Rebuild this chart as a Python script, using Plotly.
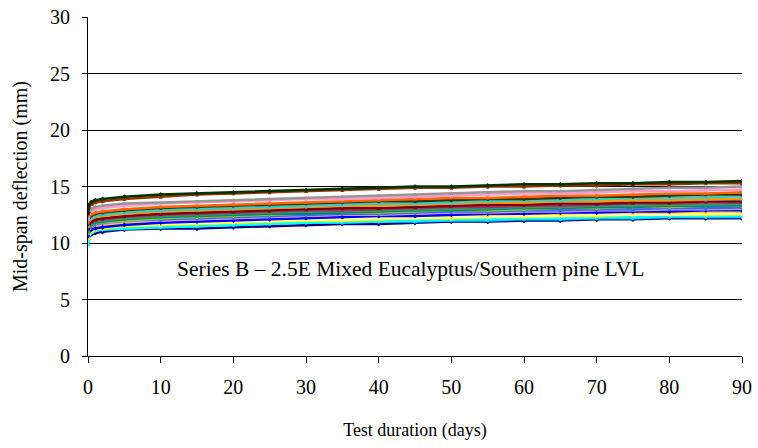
import plotly.graph_objects as go

days = [0, 0.1, 0.5, 1, 2, 5, 10, 15, 20, 25, 30, 35, 40, 45, 50, 55, 60, 65, 70, 75, 80, 85, 90]

colors = ["#003300", "#993300", "#969696", "#FF99CC", "#FF6600", "#333300", "#33CCCC",
          "#FF9900", "#666699", "#800000", "#993366", "#339966", "#008080", "#99CC00",
          "#3366FF", "#CC99FF", "#0000FF", "#FFCC00", "#FFFF99", "#FFFF00", "#00FFFF",
          "#00CCFF", "#000080"]

deflections = [
    [12.7, 13.4, 13.65, 13.8, 13.9, 14.1, 14.3, 14.4, 14.5, 14.6, 14.7, 14.8, 14.9, 15.0, 15.0, 15.1, 15.2, 15.2, 15.3, 15.3, 15.4, 15.4, 15.5],
    [12.6, 13.2, 13.45, 13.6, 13.7, 13.9, 14.1, 14.3, 14.4, 14.5, 14.6, 14.7, 14.8, 14.9, 14.9, 15.0, 15.0, 15.1, 15.1, 15.2, 15.2, 15.3, 15.3],
    [12.3, 12.8, 13.05, 13.2, 13.3, 13.5, 13.6, 13.7, 13.8, 13.9, 14.0, 14.1, 14.2, 14.3, 14.4, 14.5, 14.6, 14.6, 14.7, 14.8, 14.9, 14.9, 15.0],
    [12.1, 12.6, 12.85, 13.0, 13.1, 13.3, 13.5, 13.6, 13.7, 13.8, 13.9, 13.9, 14.0, 14.1, 14.2, 14.3, 14.4, 14.4, 14.5, 14.6, 14.6, 14.7, 14.75],
    [11.8, 12.3, 12.55, 12.7, 12.8, 13.0, 13.2, 13.3, 13.4, 13.5, 13.6, 13.7, 13.8, 13.9, 14.0, 14.0, 14.1, 14.2, 14.2, 14.3, 14.4, 14.4, 14.5],
    [11.7, 12.2, 12.45, 12.6, 12.7, 12.9, 13.1, 13.2, 13.3, 13.4, 13.5, 13.6, 13.7, 13.7, 13.8, 13.9, 13.9, 14.0, 14.1, 14.1, 14.2, 14.3, 14.3],
    [11.5, 12.0, 12.25, 12.4, 12.5, 12.7, 12.9, 13.0, 13.1, 13.2, 13.3, 13.4, 13.5, 13.5, 13.6, 13.7, 13.8, 13.8, 13.9, 14.0, 14.0, 14.1, 14.15],
    [11.4, 11.9, 12.15, 12.3, 12.4, 12.6, 12.8, 12.9, 13.0, 13.1, 13.2, 13.3, 13.3, 13.4, 13.5, 13.6, 13.6, 13.7, 13.7, 13.8, 13.8, 13.9, 13.95],
    [11.6, 12.0, 12.25, 12.4, 12.5, 12.7, 12.8, 12.9, 13.0, 13.1, 13.2, 13.3, 13.4, 13.5, 13.5, 13.6, 13.6, 13.7, 13.7, 13.8, 13.8, 13.8, 13.85],
    [11.3, 11.7, 11.95, 12.1, 12.2, 12.4, 12.6, 12.7, 12.8, 12.9, 13.0, 13.1, 13.1, 13.2, 13.3, 13.4, 13.4, 13.5, 13.5, 13.6, 13.6, 13.7, 13.7],
    [11.2, 11.6, 11.85, 12.0, 12.1, 12.3, 12.5, 12.6, 12.7, 12.8, 12.9, 12.9, 13.0, 13.1, 13.2, 13.2, 13.3, 13.3, 13.4, 13.5, 13.5, 13.6, 13.6],
    [11.1, 11.5, 11.75, 11.9, 12.0, 12.2, 12.4, 12.5, 12.6, 12.7, 12.8, 12.8, 12.9, 13.0, 13.0, 13.1, 13.2, 13.2, 13.3, 13.3, 13.4, 13.4, 13.45],
    [11.0, 11.4, 11.65, 11.8, 11.9, 12.1, 12.3, 12.4, 12.5, 12.6, 12.6, 12.7, 12.8, 12.9, 12.9, 13.0, 13.1, 13.1, 13.2, 13.2, 13.3, 13.3, 13.35],
    [10.9, 11.4, 11.6, 11.75, 11.85, 12.0, 12.2, 12.3, 12.4, 12.5, 12.6, 12.7, 12.7, 12.8, 12.9, 12.9, 13.0, 13.1, 13.1, 13.2, 13.2, 13.3, 13.3],
    [10.9, 11.3, 11.55, 11.7, 11.8, 12.0, 12.1, 12.2, 12.3, 12.4, 12.5, 12.6, 12.6, 12.7, 12.8, 12.8, 12.9, 12.9, 13.0, 13.0, 13.1, 13.1, 13.15],
    [10.8, 11.2, 11.45, 11.6, 11.7, 11.9, 12.0, 12.1, 12.2, 12.3, 12.4, 12.5, 12.5, 12.6, 12.7, 12.7, 12.8, 12.8, 12.9, 12.9, 13.0, 13.0, 13.05],
    [10.6, 11.0, 11.2, 11.3, 11.4, 11.6, 11.8, 11.9, 12.0, 12.1, 12.2, 12.3, 12.4, 12.4, 12.5, 12.6, 12.6, 12.7, 12.7, 12.8, 12.8, 12.9, 12.9],
    [10.7, 11.1, 11.35, 11.5, 11.6, 11.8, 11.9, 12.0, 12.1, 12.2, 12.3, 12.3, 12.4, 12.4, 12.5, 12.5, 12.6, 12.6, 12.7, 12.7, 12.7, 12.8, 12.8],
    [10.5, 10.9, 11.15, 11.3, 11.4, 11.6, 11.7, 11.8, 11.9, 12.0, 12.1, 12.1, 12.2, 12.2, 12.3, 12.3, 12.4, 12.4, 12.5, 12.5, 12.5, 12.6, 12.6],
    [10.4, 10.8, 11.05, 11.2, 11.3, 11.5, 11.6, 11.7, 11.8, 11.9, 12.0, 12.0, 12.1, 12.2, 12.2, 12.3, 12.3, 12.4, 12.4, 12.5, 12.5, 12.5, 12.55],
    [9.8, 10.6, 10.9, 11.1, 11.2, 11.3, 11.4, 11.5, 11.6, 11.7, 11.8, 11.9, 11.9, 12.0, 12.1, 12.1, 12.2, 12.2, 12.3, 12.3, 12.4, 12.4, 12.45],
    [10.2, 10.7, 10.95, 11.1, 11.2, 11.3, 11.4, 11.5, 11.6, 11.7, 11.8, 11.8, 11.9, 11.9, 12.0, 12.0, 12.1, 12.1, 12.2, 12.2, 12.3, 12.3, 12.3],
    [10.3, 10.6, 10.8, 10.9, 11.0, 11.2, 11.3, 11.3, 11.4, 11.5, 11.6, 11.7, 11.7, 11.8, 11.9, 11.9, 12.0, 12.0, 12.1, 12.1, 12.2, 12.2, 12.2],
]

y_ticks = [0, 5, 10, 15, 20, 25, 30]
x_ticks = [0, 10, 20, 30, 40, 50, 60, 70, 80, 90]
note = "Series B \u2013 2.5E Mixed Eucalyptus/Southern pine LVL"

symbols = ["diamond", "square", "triangle-up", "x", "asterisk", "circle", "cross", "line-ew"]

fig = go.Figure()
for i in reversed(range(len(deflections))):
    fig.add_trace(go.Scatter(
        x=days, y=deflections[i], mode="lines+markers",
        line=dict(color=colors[i], width=2.5),
        marker=dict(symbol=symbols[i % len(symbols)], size=3, color=colors[i],
                    line=dict(color=colors[i], width=1)),
        showlegend=False, hoverinfo="skip"))

font = "Liberation Serif, Times New Roman, serif"
fig.update_layout(
    width=758, height=448,
    margin=dict(l=88, r=16, t=17, b=92),
    paper_bgcolor="white", plot_bgcolor="white",
    font=dict(family=font, size=20, color="black"),
    annotations=[dict(x=44.4, y=7.7, xref="x", yref="y", text=note, showarrow=False,
                      font=dict(family=font, size=21.5, color="black"))],
)
fig.update_xaxes(range=[0, 90], tickvals=x_ticks, ticks="outside", ticklen=6,
                 tickcolor="black", showline=True, linecolor="black", linewidth=1,
                 showgrid=False, zeroline=False, ticklabelstandoff=7, automargin=False,
                 title=dict(text="Test duration (days)", font=dict(size=18), standoff=26),
                 tickfont=dict(size=20))
fig.update_yaxes(range=[0, 30.02], tickvals=y_ticks, ticks="outside", ticklen=5,
                 tickcolor="black", showline=True, linecolor="black", linewidth=1,
                 showgrid=True, gridcolor="black", gridwidth=1, zeroline=False,
                 ticklabelstandoff=8, automargin=False,
                 title=dict(text="Mid-span deflection (mm)", font=dict(size=20), standoff=17),
                 tickfont=dict(size=20))

fig.write_html("out.html")
